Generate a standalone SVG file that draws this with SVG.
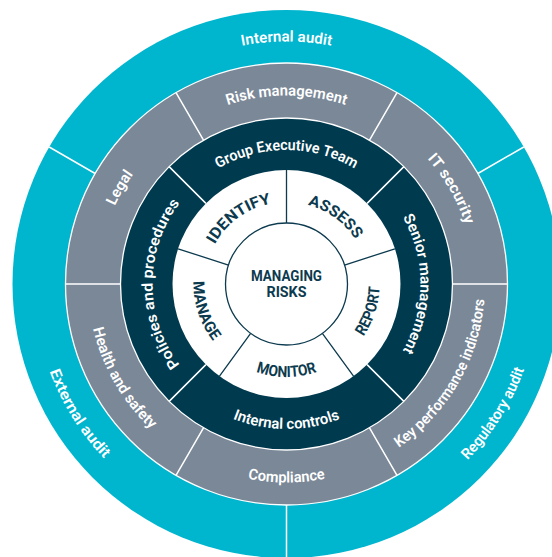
<svg xmlns="http://www.w3.org/2000/svg" width="552" height="557" viewBox="0 0 552 557">
<style>
.lbl{font-family:Roboto,"Liberation Sans",sans-serif;font-weight:600;font-size:15px;fill:#ffffff}
.core{font-family:Roboto,"Liberation Sans",sans-serif;font-weight:700;font-size:15.5px;fill:#0c3a4e}
.wdiv{stroke:#ffffff;stroke-width:1.5;fill:none}
.ddiv{stroke:#0c3a4e;stroke-width:1.3;fill:none}
</style>
<defs>
<path id="pInternalAudit" d="M -238.82 -42.11 A 242.5 242.5 0 0 1 238.82 -42.11"/>
<path id="pRegulatory" d="M -94.59 234.11 A 252.5 252.5 0 0 0 168.96 -187.64"/>
<path id="pExternal" d="M -168.96 -187.64 A 252.5 252.5 0 0 0 94.59 234.11"/>
<path id="pRisk" d="M -185.64 -32.73 A 188.5 188.5 0 0 1 185.64 -32.73"/>
<path id="pIT" d="M -64.47 -177.13 A 188.5 188.5 0 0 1 121.17 144.40"/>
<path id="pLegal" d="M -121.17 144.40 A 188.5 188.5 0 0 1 64.47 -177.13"/>
<path id="pKPI" d="M -67.89 186.53 A 198.5 198.5 0 0 0 127.59 -152.06"/>
<path id="pCompliance" d="M -195.48 34.47 A 198.5 198.5 0 0 0 195.48 34.47"/>
<path id="pHealth" d="M -127.59 -152.06 A 198.5 198.5 0 0 0 67.89 186.53"/>
<path id="pGET" d="M -131.96 -23.27 A 134 134 0 0 1 131.96 -23.27"/>
<path id="pSenior" d="M 23.27 -131.96 A 134 134 0 0 1 23.27 131.96"/>
<path id="pPolicies" d="M -23.27 131.96 A 134 134 0 0 1 -23.27 -131.96"/>
<path id="pControls" d="M -142.80 25.18 A 145 145 0 0 0 142.80 25.18"/>
<path id="pIdentify" d="M -73.70 35.95 A 82 82 0 0 1 56.96 -58.99"/>
<path id="pAssess" d="M -56.96 -58.99 A 82 82 0 0 1 73.70 35.95"/>
<path id="pReport" d="M -12.94 92.10 A 93 93 0 0 0 43.66 -82.11"/>
<path id="pMonitor" d="M -91.59 16.15 A 93 93 0 0 0 91.59 16.15"/>
<path id="pManage" d="M -43.66 -82.11 A 93 93 0 0 0 12.94 92.10"/>
</defs>
<g transform="translate(286.5,284)">
  <g id="rings">
    <circle r="274" fill="#00b5ce"/>
    <circle r="221" fill="#7b8898" stroke="#ffffff" stroke-width="1.3"/>
    <circle r="166" fill="#003a4f" stroke="#ffffff" stroke-width="1.3"/>
    <circle r="114" fill="#ffffff"/>
  </g>
  <g id="connectors">
    <path class="wdiv" d="M 191.39 -110.5 L 237.29 -137 M -191.39 -110.5 L -237.29 -137 M 0 221 L 0 276"/>
    <path class="wdiv" d="M 83 -143.76 L 110.5 -191.39 M -83 -143.76 L -110.5 -191.39 M 166 0 L 221 0 M -166 0 L -221 0 M 83 143.76 L 110.5 191.39 M -83 143.76 L -110.5 191.39"/>
    <path class="wdiv" d="M 80.61 -80.61 L 117.38 -117.38 M -80.61 -80.61 L -117.38 -117.38 M 80.61 80.61 L 117.38 117.38 M -80.61 80.61 L -117.38 117.38"/>
    <path class="ddiv" d="M 0 -61 L 0 -114 M 58.01 -18.85 L 108.42 -35.23 M 35.86 49.35 L 67.01 92.23 M -35.86 49.35 L -67.01 92.23 M -58.01 -18.85 L -108.42 -35.23"/>
  </g>
  <g id="internal-audit"><text class="lbl" text-anchor="middle"><textPath href="#pInternalAudit" startOffset="50%" textLength="90" lengthAdjust="spacingAndGlyphs">Internal audit</textPath></text></g>
  <g id="regulatory-audit"><text class="lbl" text-anchor="middle"><textPath href="#pRegulatory" startOffset="50%" textLength="108" lengthAdjust="spacingAndGlyphs">Regulatory audit</textPath></text></g>
  <g id="external-audit"><text class="lbl" text-anchor="middle"><textPath href="#pExternal" startOffset="50%" textLength="104" lengthAdjust="spacingAndGlyphs">External audit</textPath></text></g>
  <g id="risk-management"><text class="lbl" text-anchor="middle"><textPath href="#pRisk" startOffset="50%" textLength="120" lengthAdjust="spacingAndGlyphs">Risk management</textPath></text></g>
  <g id="it-security"><text class="lbl" text-anchor="middle"><textPath href="#pIT" startOffset="50%" textLength="77" lengthAdjust="spacingAndGlyphs">IT security</textPath></text></g>
  <g id="kpi"><text class="lbl" text-anchor="middle"><textPath href="#pKPI" startOffset="50%" textLength="177" lengthAdjust="spacingAndGlyphs">Key performance indicators</textPath></text></g>
  <g id="compliance"><text class="lbl" text-anchor="middle"><textPath href="#pCompliance" startOffset="50%" textLength="78" lengthAdjust="spacingAndGlyphs">Compliance</textPath></text></g>
  <g id="health-safety"><text class="lbl" text-anchor="middle"><textPath href="#pHealth" startOffset="50%" textLength="118" lengthAdjust="spacingAndGlyphs">Health and safety</textPath></text></g>
  <g id="legal"><text class="lbl" text-anchor="middle"><textPath href="#pLegal" startOffset="50%" textLength="37" lengthAdjust="spacingAndGlyphs">Legal</textPath></text></g>
  <g id="group-executive-team"><text class="lbl" text-anchor="middle"><textPath href="#pGET" startOffset="50%" textLength="143" lengthAdjust="spacingAndGlyphs">Group Executive Team</textPath></text></g>
  <g id="senior-management"><text class="lbl" text-anchor="middle"><textPath href="#pSenior" startOffset="50%" textLength="140" lengthAdjust="spacingAndGlyphs">Senior management</textPath></text></g>
  <g id="internal-controls"><text class="lbl" text-anchor="middle"><textPath href="#pControls" startOffset="50%" textLength="110" lengthAdjust="spacingAndGlyphs">Internal controls</textPath></text></g>
  <g id="policies-procedures"><text class="lbl" text-anchor="middle"><textPath href="#pPolicies" startOffset="50%" textLength="174" lengthAdjust="spacingAndGlyphs">Policies and procedures</textPath></text></g>
  <g id="identify"><text class="core" text-anchor="middle"><textPath href="#pIdentify" startOffset="50%" textLength="72" lengthAdjust="spacingAndGlyphs">IDENTIFY</textPath></text></g>
  <g id="assess"><text class="core" text-anchor="middle"><textPath href="#pAssess" startOffset="50%" textLength="60" lengthAdjust="spacingAndGlyphs">ASSESS</textPath></text></g>
  <g id="report"><text class="core" text-anchor="middle"><textPath href="#pReport" startOffset="50%" textLength="53" lengthAdjust="spacingAndGlyphs">REPORT</textPath></text></g>
  <g id="monitor"><text class="core" text-anchor="middle"><textPath href="#pMonitor" startOffset="50%" textLength="62" lengthAdjust="spacingAndGlyphs">MONITOR</textPath></text></g>
  <g id="manage"><text class="core" text-anchor="middle"><textPath href="#pManage" startOffset="50%" textLength="64" lengthAdjust="spacingAndGlyphs">MANAGE</textPath></text></g>
  <g id="managing-risks">
    <circle r="61" fill="#ffffff" stroke="#0c3a4e" stroke-width="1.3"/>
    <text class="core" text-anchor="middle" x="0" y="-3" textLength="71" lengthAdjust="spacingAndGlyphs">MANAGING</text>
    <text class="core" text-anchor="middle" x="0" y="13.3" textLength="40" lengthAdjust="spacingAndGlyphs">RISKS</text>
  </g>
</g>
</svg>
